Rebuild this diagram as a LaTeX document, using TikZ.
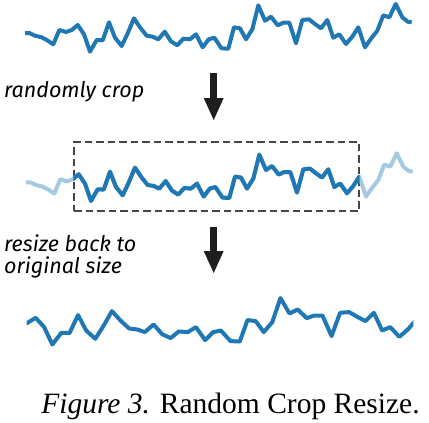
\documentclass[tikz,border=0pt]{standalone}
\usepackage{fontspec}
\setmainfont{Liberation Serif}
\newfontfamily\notefont{Fira Sans}
\usetikzlibrary{arrows.meta}

\definecolor{seriesblue}{RGB}{31,119,180}
\definecolor{fadedblue}{RGB}{165,201,225}
\definecolor{arrowgray}{RGB}{30,30,30}

% the time series, in pixels of the top row
\newcommand{\drawseries}[1]{%
    \draw[#1] plot coordinates {
        (25,33) (29.3,33) (35,35.7) (41.7,37.3) (46.7,40) (53.3,44.3)
        (59.3,30) (66,32) (71.7,30) (77.7,25) (84,34.3) (90,51.7)
        (96.7,40) (102.7,40.3) (109,22.3) (115,37.7) (121.7,46) (127.7,33.3)
        (134,18.3) (140.7,28.3) (146.7,35.7) (152.7,36.7) (158.3,39.3) (164.7,31.7)
        (171,41.3) (177.3,45.3) (183.3,38.7) (190,39.3) (196,34.3) (202.7,47.3)
        (208.7,39.3) (214.3,37.7) (221.5,48.3) (228.3,48.7) (234,27.3) (240,28.3)
        (246,39.3) (252.3,29.3) (258.3,5.3) (265,20.7) (271,16.7) (277.7,25.3)
        (283.3,22.7) (289.3,22.7) (296,43.3) (302.3,20) (309,19.3) (315,24)
        (321,28.3) (327.3,20) (333.3,37.7) (339.3,34.3) (346,44) (352.3,36.7)
        (358.3,27.3) (365,47.3) (371,38.7) (377.3,30.7) (383.3,15.3) (389.3,17.3)
        (395.7,4) (402.3,17.3) (407.7,21.7) (411.7,22.3)
    };%
}

\begin{document}
\begin{tikzpicture}[
            x=1pt,y=-1pt,
            series/.style={
                    seriesblue,
                    line width=4pt,
                    line join=round
                },
            faded/.style={
                    series,
                    fadedblue
                },
            cropbox/.style={
                    draw=black!72,
                    line width=1.2pt,
                    dash pattern=on 7.5pt off 4pt,
                    minimum width=285pt,
                    minimum height=69pt,
                    inner sep=0pt
                },
            blockarrow/.style={
                    arrowgray,
                    line width=6.5pt,
                    -{Triangle[width=20pt,length=22pt,line width=0pt]}
                },
            note/.style={
                    font=\notefont\itshape\fontsize{21.5}{21.7}\selectfont,
                    inner sep=0pt,
                    anchor=base west
                }
        ]
        \useasboundingbox (0,0) rectangle (429,423);

        % original series
        \drawseries{series}

        % cropped series
        \node[cropbox] (box) at (216.5,176.5) {};
        \begin{scope}[shift={(1,149.3)}]
            \drawseries{faded}
        \end{scope}
        \begin{scope}
            \clip (box.north west) rectangle (box.south east);
            \begin{scope}[shift={(1,149.3)}]
                \drawseries{series}
            \end{scope}
        \end{scope}

        % resized series
        \begin{scope}
            \clip (26.7,280) rectangle (413.3,360);
            \begin{scope}[shift={(-69.7,292.8)},xscale=1.3555]
                \drawseries{series}
            \end{scope}
        \end{scope}

        % arrows and notes
        \coordinate (crop top) at (213.7,73);
        \coordinate (crop tip) at (213.7,120);
        \coordinate (resize top) at (213.7,227);
        \coordinate (resize tip) at (213.7,273);
        \draw[blockarrow] (crop top) -- (crop tip);
        \draw[blockarrow] (resize top) -- (resize tip);

        \node[note] (crop note) at (4,97.7) {randomly crop};
        \node[note,align=left] (resize note) at (4,273.4) {resize back to\\original size};

        \node[anchor=base,inner sep=0pt,font=\fontsize{29.5}{32}\selectfont] (caption)
        at (230.5,413) {\textit{Figure 3.} Random Crop Resize.};
    \end{tikzpicture}
\end{document}
